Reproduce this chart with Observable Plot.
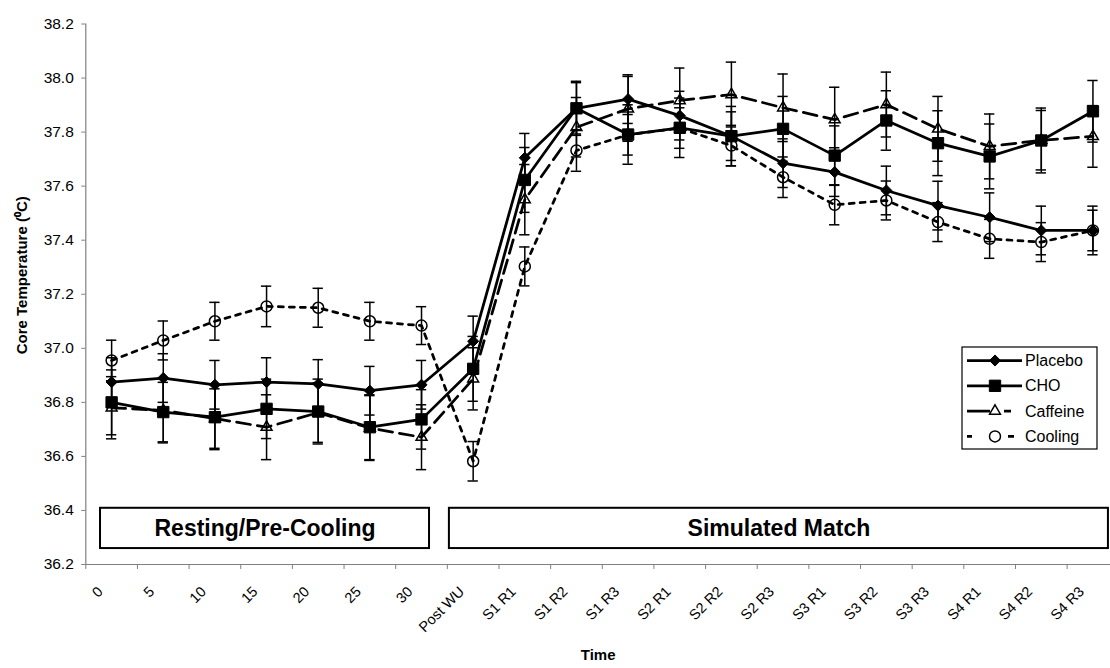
<!DOCTYPE html>
<html>
<head>
<meta charset="utf-8">
<script src="https://cdn.jsdelivr.net/npm/d3@7"></script>
<script src="https://cdn.jsdelivr.net/npm/@observablehq/plot@0.6"></script>
<style>
  body { margin: 0; background: #fff; font-family: "Liberation Sans", Arial, sans-serif; }
  #wrap { position: relative; width: 1110px; height: 668px; overflow: hidden; background: #fff; }
</style>
</head>
<body>
<div id="wrap"></div>
<script>
// ---------- data ----------
const categories = ["0","5","10","15","20","25","30","Post WU",
  "S1 R1","S1 R2","S1 R3","S2 R1","S2 R2","S2 R3","S3 R1","S3 R2","S3 R3","S4 R1","S4 R2","S4 R3"];
const seriesNames = ["Placebo","CHO","Caffeine","Cooling"];

const placebo  = [36.875,36.890,36.865,36.875,36.868,36.843,36.865,37.026,37.705,37.888,37.922,37.861,37.785,37.685,37.652,37.584,37.528,37.485,37.436,37.436];
const cho      = [36.800,36.764,36.745,36.776,36.766,36.708,36.737,36.924,37.623,37.888,37.791,37.816,37.785,37.812,37.713,37.843,37.759,37.710,37.769,37.877];
const caffeine = [36.780,36.770,36.740,36.708,36.762,36.705,36.671,36.887,37.550,37.818,37.886,37.917,37.939,37.890,37.846,37.902,37.812,37.747,37.770,37.784];
const cooling  = [36.955,37.029,37.100,37.155,37.150,37.100,37.084,36.582,37.303,37.732,37.790,37.815,37.750,37.633,37.531,37.547,37.467,37.405,37.393,37.436];

const placeboSE  = [0.090,0.090,0.090,0.090,0.090,0.090,0.090,0.093,0.090,0.095,0.090,0.090,0.090,0.090,0.090,0.090,0.090,0.090,0.090,0.090];
const choSE      = [0.120,0.110,0.120,0.110,0.120,0.120,0.110,0.120,0.120,0.100,0.110,0.110,0.110,0.120,0.110,0.110,0.120,0.120,0.120,0.114];
const caffeineSE = [0.115,0.120,0.110,0.120,0.110,0.120,0.120,0.115,0.130,0.110,0.120,0.120,0.120,0.125,0.120,0.120,0.120,0.120,0.110,0.114];
const coolingSE  = [0.075,0.072,0.070,0.075,0.072,0.070,0.070,0.073,0.072,0.077,0.075,0.075,0.075,0.075,0.074,0.072,0.072,0.072,0.072,0.075];

const yTicks = [36.2,36.4,36.6,36.8,37.0,37.2,37.4,37.6,37.8,38.0,38.2];

const phaseLabels = ["Resting/Pre-Cooling","Simulated Match"];
const phaseStart  = [0.285, 7.04];   // in category units
const phaseEnd    = [6.655, 19.8];
const phaseLow    = [36.259, 36.259];
const phaseHigh   = [36.408, 36.408];

// ---------- build tables ----------
const values = [placebo, cho, caffeine, cooling];
const errors = [placeboSE, choSE, caffeineSE, coolingSE];
const rows = seriesNames.flatMap((name, s) =>
  categories.map((c, i) => ({series: name, i, cat: c, value: values[s][i], se: errors[s][i]})));
const phases = phaseLabels.map((label, k) => ({label, start: phaseStart[k], end: phaseEnd[k], low: phaseLow[k], high: phaseHigh[k]}));

const styles = {
  Placebo:  {dash: null,   legendDash: null,            symbol: "diamond2",  fill: "black", r: 5.0, sw: 1},
  CHO:      {dash: null,   legendDash: null,            symbol: "square",    fill: "black", r: 6.4, sw: 1},
  Caffeine: {dash: "14,7", legendDash: "23,14,7,20",    symbol: "triangle2", fill: "none",  r: 5.2, sw: 1.5},
  Cooling:  {dash: "5,6",  legendDash: "5,36,6,20",     symbol: "circle",    fill: "none",  r: 5.5, sw: 1.5}
};

const xPos = d => d.i + 0.5;
const capW = 0.1;

const marks = [
  // region boxes
  Plot.rect(phases, {x1: "start", x2: "end", y1: "low", y2: "high", fill: "white", stroke: "black", strokeWidth: 2}),
  Plot.text(phases, {x: d => (d.start + d.end) / 2, y: d => (d.low + d.high) / 2, text: "label",
    fontWeight: "bold", fontSize: 23, fill: "black"}),
  // axes
  Plot.ruleX([0], {stroke: "#808080", strokeWidth: 1.2}),
  Plot.ruleY([36.2], {stroke: "#808080", strokeWidth: 1.2}),
  Plot.axisY({ticks: yTicks, tickSize: 4, tickPadding: 8, tickFormat: d => d.toFixed(1),
    fontSize: 15.5, stroke: "#808080", fill: "black"}),
  Plot.axisX({ticks: d3.range(0, 20), tickSize: 5, tickFormat: () => "", stroke: "#808080"}),
  Plot.text(categories, {x: (d, i) => i + 0.5, frameAnchor: "bottom", text: d => d, rotate: -45,
    textAnchor: "end", dx: -8, dy: 28, fontSize: 14.5, fill: "black"}),
  Plot.text(["Core Temperature (\u2070C)"], {frameAnchor: "left", rotate: -90, textAnchor: "middle",
    dx: -64, dy: -19, fontWeight: "bold", fontSize: 15, fill: "black"}),
  Plot.text(["Time"], {frameAnchor: "bottom", dy: 95, fontWeight: "bold", fontSize: 15, fill: "black"}),
  // error bars
  Plot.ruleX(rows, {x: xPos, y1: d => d.value - d.se, y2: d => d.value + d.se, stroke: "black", strokeWidth: 1.5}),
  Plot.ruleY(rows, {y: d => d.value + d.se, x1: d => xPos(d) - capW, x2: d => xPos(d) + capW, stroke: "black", strokeWidth: 1.5}),
  Plot.ruleY(rows, {y: d => d.value - d.se, x1: d => xPos(d) - capW, x2: d => xPos(d) + capW, stroke: "black", strokeWidth: 1.5})
];

seriesNames.forEach(name => {
  const st = styles[name];
  const data = rows.filter(d => d.series === name);
  marks.push(Plot.line(data, {x: xPos, y: "value", stroke: "black", strokeWidth: 2.75,
    strokeDasharray: st.dash || undefined}));
});
seriesNames.forEach(name => {
  const st = styles[name];
  const data = rows.filter(d => d.series === name);
  marks.push(Plot.dot(data, {x: xPos, y: "value", symbol: st.symbol, r: st.r,
    fill: st.fill, stroke: "black", strokeWidth: st.sw}));
});

const chart = Plot.plot({
  width: 1110,
  height: 668,
  marginLeft: 85.3,
  marginRight: 0,
  marginTop: 23.5,
  marginBottom: 104,
  style: {fontFamily: "'Liberation Sans', Arial, sans-serif", background: "white", overflow: "hidden"},
  x: {type: "linear", domain: [0, 19.84], axis: null},
  y: {domain: [36.2, 38.2], axis: null},
  marks
});
document.getElementById("wrap").appendChild(chart);

// ---------- legend ----------
const symbolMap = {diamond2: d3.symbolDiamond2, square: d3.symbolSquare, triangle2: d3.symbolTriangle2, circle: d3.symbolCircle};
const leg = d3.select("#wrap").append("svg")
  .attr("width", 138).attr("height", 105)
  .style("position", "absolute").style("left", "961px").style("top", "346px");
leg.append("rect").attr("x", 1).attr("y", 1).attr("width", 135).attr("height", 102)
  .attr("fill", "white").attr("stroke", "black").attr("stroke-width", 1.2);
seriesNames.forEach((name, k) => {
  const st = styles[name];
  const y = 14.5 + k * 25.3;
  leg.append("line").attr("x1", 6).attr("x2", 61).attr("y1", y).attr("y2", y)
    .attr("stroke", "black").attr("stroke-width", 2.75)
    .attr("stroke-dasharray", st.legendDash);
  leg.append("path")
    .attr("d", d3.symbol(symbolMap[st.symbol], Math.PI * st.r * st.r)())
    .attr("transform", `translate(34,${y})`)
    .attr("fill", st.fill === "none" ? "white" : st.fill)
    .attr("stroke", "black").attr("stroke-width", st.sw);
  leg.append("text").attr("x", 64).attr("y", y).attr("dy", "0.35em")
    .attr("font-size", 16).attr("font-family", "'Liberation Sans', Arial, sans-serif")
    .attr("fill", "black").text(name);
});
</script>
</body>
</html>
